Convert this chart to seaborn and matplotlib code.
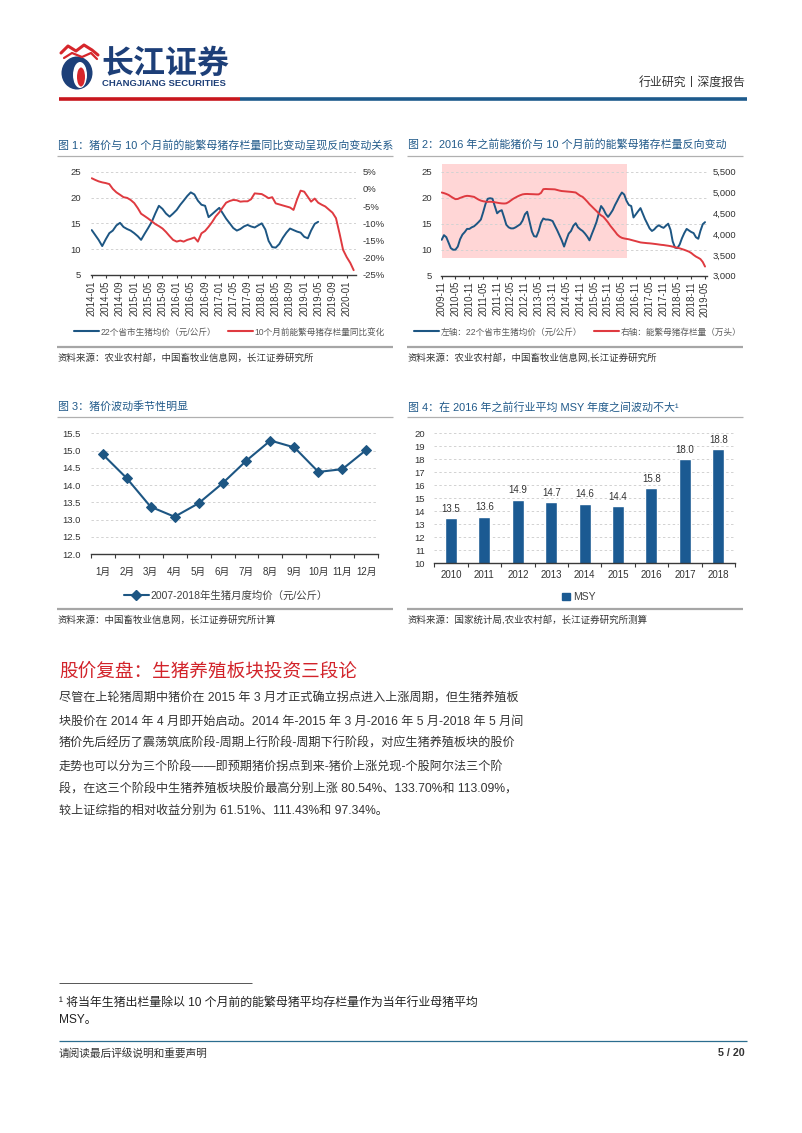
import matplotlib
matplotlib.use('Agg')
import numpy as np
import pandas as pd
import matplotlib.pyplot as plt
import matplotlib.dates as mdates
import matplotlib.ticker as mticker
import matplotlib.patches as mpatches
from matplotlib.lines import Line2D
import seaborn as sns

# ---------------- data ----------------
fig1_start = '2014-01-01'
fig1_price = [13.7, 12.7, 11.8, 10.6, 11.9, 13.1, 13.6, 14.6, 15.1, 14.3, 13.9, 13.6,
              13.1, 12.5, 11.8, 13.0, 14.1, 15.3, 16.9, 18.4, 17.8, 16.9, 16.3, 16.9,
              17.6, 18.6, 19.4, 20.3, 21.0, 20.6, 19.4, 18.6, 18.4, 16.2, 16.8, 17.4,
              18.0, 16.9, 15.9, 15.0, 14.1, 13.6, 13.9, 14.4, 14.7, 14.4, 14.2, 14.6,
              15.0, 13.8, 11.6, 10.4, 10.3, 11.0, 12.2, 13.2, 14.0, 13.7, 13.4, 13.2,
              12.4, 12.1, 13.6, 14.9, 15.3]
fig1_sow_yoy = [3.1, 2.6, 2.2, 1.9, 1.7, 1.4, 0.0, -1.0, -1.7, -2.4, -2.6, -3.2,
                -4.1, -5.6, -7.2, -7.9, -8.6, -9.4, -10.2, -10.8, -11.5, -12.5, -13.7, -14.8,
                -15.3, -15.0, -15.3, -14.8, -14.5, -14.1, -15.3, -12.9, -12.2, -11.0, -9.6, -8.0,
                -6.8, -5.3, -4.0, -3.5, -3.2, -3.3, -3.7, -3.6, -3.6, -3.0, -1.3, -1.4,
                -1.5, -2.1, -2.7, -2.4, -4.2, -4.5, -4.8, -5.1, -5.4, -6.1, -3.0, -0.5,
                -0.8, -2.3, -3.7, -2.8, -4.0, -4.6, -5.1, -6.0, -6.9, -8.5, -13.0, -17.7,
                -19.8, -21.5, -23.6]
fig1_labels = ['22个省市生猪均价（元/公斤）', '10个月前能繁母猪存栏量同比变化']

fig2_start = '2009-11-01'
fig2_price_early = [11.9, 12.8, 12.4, 11.3, 10.3, 10.0, 10.0, 10.6, 12.0, 12.9, 13.4, 14.0,
                    14.0, 14.3, 14.5, 14.9, 15.3, 15.8, 17.2, 18.8, 19.8, 19.9, 19.8, 18.4,
                    17.0, 17.4, 17.6, 16.2, 14.8, 14.3, 14.1, 14.1, 14.3, 14.6, 14.9, 15.6,
                    16.8, 17.3, 15.4, 13.5, 12.6, 12.5, 13.6, 15.2, 16.0, 15.8, 15.8, 15.7,
                    15.5, 14.6]
fig2_price = fig2_price_early + fig1_price
fig2_sow_stock = [5000, 4985, 4965, 4940, 4905, 4870, 4840, 4845, 4870, 4890, 4910, 4920,
                  4915, 4905, 4895, 4860, 4830, 4805, 4790, 4780, 4775, 4778, 4775, 4765,
                  4755, 4745, 4738, 4735, 4740, 4770, 4810, 4850, 4880, 4910, 4935, 4955,
                  4963, 4965, 4962, 4960, 4958, 4955, 4955, 4990, 5080, 5085, 5082, 5080,
                  5078, 5075, 5060, 5045, 5035, 5030, 5025, 5020, 5015, 5008, 5000, 4960,
                  4920, 4895, 4840, 4780, 4720, 4665, 4610, 4555, 4500, 4450, 4415, 4350,
                  4280, 4200, 4130, 4060, 3990, 3940, 3910, 3895, 3885, 3875, 3860, 3845,
                  3830, 3815, 3800, 3793, 3788, 3782, 3778, 3772, 3765, 3758, 3750, 3742,
                  3737, 3728, 3720, 3710, 3698, 3685, 3672, 3658, 3640, 3622, 3600, 3578,
                  3545, 3500, 3460, 3430, 3400, 3330, 3220]
fig2_shade_period = ['2009-11-01', '2016-07-01']
fig2_shade_range = [8.4, 26.5]
fig2_labels = ['左轴：22个省市生猪均价（元/公斤）', '右轴：能繁母猪存栏量（万头）']

fig3_months = ['1月', '2月', '3月', '4月', '5月', '6月', '7月', '8月', '9月', '10月', '11月', '12月']
fig3_price = [14.89, 14.20, 13.37, 13.08, 13.47, 14.05, 14.71, 15.29, 15.09, 14.38, 14.46, 15.02]
fig3_label = '2007-2018年生猪月度均价（元/公斤）'

fig4_years = ['2010', '2011', '2012', '2013', '2014', '2015', '2016', '2017', '2018']
fig4_msy = [13.5, 13.6, 14.9, 14.7, 14.6, 14.4, 15.8, 18.0, 18.8]
fig4_label = 'MSY'

body_lines = [
    "尽管在上轮猪周期中猪价在 2015 年 3 月才正式确立拐点进入上涨周期，但生猪养殖板",
    "块股价在 2014 年 4 月即开始启动。2014 年-2015 年 3 月-2016 年 5 月-2018 年 5 月间",
    "猪价先后经历了震荡筑底阶段-周期上行阶段-周期下行阶段，对应生猪养殖板块的股价",
    "走势也可以分为三个阶段——即预期猪价拐点到来-猪价上涨兑现-个股阿尔法三个阶",
    "段，在这三个阶段中生猪养殖板块股价最高分别上涨 80.54%、133.70%和 113.09%，",
    "较上证综指的相对收益分别为 61.51%、111.43%和 97.34%。",
]

# ---------------- style ----------------
sns.set_theme(style='white')
plt.rcParams['font.family'] = ['Liberation Sans', 'Noto Sans CJK SC', 'DejaVu Sans']
plt.rcParams['axes.unicode_minus'] = False

BLUE = '#1d5683'
RED = '#df3a40'
BAR = '#1b5a92'
TITLE_C = '#215a8a'
TXT = '#404040'
GRID = dict(color='#d2d2d2', linestyle=(0, (2.5, 2.5)), linewidth=0.7)

W, H, DPI = 802, 1133, 100
fig = plt.figure(figsize=(W / DPI, H / DPI), dpi=DPI)
fig.patch.set_facecolor('white')
page = fig.add_axes([0, 0, 1, 1])
page.set_xlim(0, W)
page.set_ylim(H, 0)
page.axis('off')


def add_ax(l, t, r, b):
    return fig.add_axes([l / W, 1 - b / H, (r - l) / W, (b - t) / H])


def hline(x0, x1, y, color, lw):
    page.plot([x0, x1], [y, y], color=color, lw=lw, solid_capstyle='butt')


def style(ax, ypad):
    for s in ['top', 'left', 'right']:
        ax.spines[s].set_visible(False)
    ax.spines['bottom'].set_color('#3a3a3a')
    ax.spines['bottom'].set_linewidth(1.0)
    ax.tick_params(axis='y', left=False, length=0, pad=ypad, labelsize=6.8, labelcolor='#333333')
    ax.tick_params(axis='x', bottom=True, labelcolor='#333333')
    ax.grid(axis='y', **GRID)
    ax.grid(axis='x', visible=False)
    ax.set_axisbelow(True)
    ax.set_xlabel('')
    ax.set_ylabel('')


def twin_style(ax, pad):
    for s in ax.spines.values():
        s.set_visible(False)
    ax.tick_params(axis='y', right=False, length=0, pad=pad, labelsize=6.8, labelcolor='#333333')
    ax.grid(False)
    ax.set_xlabel('')
    ax.set_ylabel('')


# ---------------- header ----------------
page.add_patch(mpatches.Ellipse((77, 73), 31, 33, fc='#1d4079', ec='none'))
page.add_patch(mpatches.Ellipse((80, 75), 14, 26, fc='white', ec='none'))
page.add_patch(mpatches.Ellipse((81, 77), 8, 19, fc='#d6262b', ec='none'))
page.plot([61, 68, 76, 84, 92, 98], [53, 46, 51, 45, 50, 55], color='#d6262b', lw=2.2)
page.plot([64, 72, 82, 91, 97], [58, 53, 57, 53, 59], color='#d6262b', lw=1.6)
page.text(101, 64, '长江证券', fontsize=23, fontweight='bold', color='#1d3f78', va='center', ha='left',
          family=['Noto Sans CJK SC'])
page.text(102, 84, 'CHANGJIANG SECURITIES', fontsize=6.8, fontweight='bold', color='#1d3f78',
          va='center', ha='left')
page.text(746, 83, '行业研究丨深度报告', fontsize=8.6, color='#333333', va='center', ha='right')
hline(59, 240, 98.5, '#c8161d', 2.6)
hline(240, 747, 98.5, '#1d5a8c', 2.6)

# ---------------- chart titles & frames ----------------
page.text(58, 145, '图 1：猪价与 10 个月前的能繁母猪存栏量同比变动呈现反向变动关系', fontsize=7.9,
          color=TITLE_C, va='center')
page.text(408, 145, '图 2：2016 年之前能猪价与 10 个月前的能繁母猪存栏量反向变动', fontsize=7.9,
          color=TITLE_C, va='center')
page.text(58, 407, '图 3：猪价波动季节性明显', fontsize=7.9, color=TITLE_C, va='center')
page.text(408, 407, '图 4：在 2016 年之前行业平均 MSY 年度之间波动不大¹', fontsize=7.9,
          color=TITLE_C, va='center')
for (x0, x1) in [(57, 393), (407, 743)]:
    hline(x0, x1, 155.5, '#b0b0b0', 0.9)
    hline(x0, x1, 347, '#a6a6a6', 1.6)
    hline(x0, x1, 417, '#b0b0b0', 0.9)
    hline(x0, x1, 608.5, '#a6a6a6', 1.6)
src_kw = dict(fontsize=6.8, color='#333333', va='center')
page.text(58, 358, '资料来源：农业农村部，中国畜牧业信息网，长江证券研究所', **src_kw)
page.text(408, 358, '资料来源：农业农村部，中国畜牧业信息网,长江证券研究所', **src_kw)
page.text(58, 620, '资料来源：中国畜牧业信息网，长江证券研究所计算', **src_kw)
page.text(408, 620, '资料来源：国家统计局,农业农村部，长江证券研究所测算', **src_kw)

# ---------------- chart 1 ----------------
ax1 = add_ax(90.7, 171.7, 356, 275)
d1 = pd.DataFrame({'date': pd.date_range(fig1_start, periods=len(fig1_price), freq='MS'),
                   'v': fig1_price})
sns.lineplot(data=d1, x='date', y='v', ax=ax1, color=BLUE, lw=1.4)
ax1.set_ylim(5, 25)
ax1.set_yticks([5, 10, 15, 20, 25])
style(ax1, 7.2)
ax1b = ax1.twinx()
d1b = pd.DataFrame({'date': pd.date_range(fig1_start, periods=len(fig1_sow_yoy), freq='MS'),
                    'v': fig1_sow_yoy})
sns.lineplot(data=d1b, x='date', y='v', ax=ax1b, color=RED, lw=1.4)
ax1b.set_ylim(-25, 5)
ax1b.set_yticks(list(range(-25, 6, 5)))
ax1b.yaxis.set_major_formatter(mticker.FuncFormatter(lambda v, p: f'{v:.0f}%'))
twin_style(ax1b, 5)
ax1.set_xlim(pd.Timestamp('2013-12-23'), pd.Timestamp('2020-03-21'))
ax1.xaxis.set_major_locator(mdates.MonthLocator(bymonth=[1, 5, 9]))
ax1.xaxis.set_major_formatter(mdates.DateFormatter('%Y-%m'))
ax1.tick_params(axis='x', rotation=90, length=2.4, width=0.8, color='#3a3a3a', pad=1.5, labelsize=6.9)
fig.legend([Line2D([], [], color=BLUE, lw=1.5), Line2D([], [], color=RED, lw=1.5)], fig1_labels,
           loc='center', bbox_to_anchor=(229.5 / W, 1 - 332 / H), ncol=2, frameon=False, fontsize=6.2,
           handlelength=2.9, handletextpad=0.2, columnspacing=1.4, labelcolor='#595959')

# ---------------- chart 2 ----------------
ax2 = add_ax(440.7, 171.7, 706.7, 275.7)
d2 = pd.DataFrame({'date': pd.date_range(fig2_start, periods=len(fig2_price), freq='MS'),
                   'v': fig2_price})
ax2.fill_between(pd.to_datetime(fig2_shade_period), fig2_shade_range[0], fig2_shade_range[1],
                 color='#ffd6d6', lw=0, clip_on=False, zorder=0.2)
sns.lineplot(data=d2, x='date', y='v', ax=ax2, color=BLUE, lw=1.4)
ax2.set_ylim(5, 25)
ax2.set_yticks([5, 10, 15, 20, 25])
style(ax2, 6.5)
ax2b = ax2.twinx()
d2b = pd.DataFrame({'date': pd.date_range(fig2_start, periods=len(fig2_sow_stock), freq='MS'),
                    'v': fig2_sow_stock})
sns.lineplot(data=d2b, x='date', y='v', ax=ax2b, color=RED, lw=1.4)
ax2b.set_ylim(3000, 5500)
ax2b.set_yticks(list(range(3000, 5501, 500)))
ax2b.yaxis.set_major_formatter(mticker.FuncFormatter(lambda v, p: f'{int(v):,}'))
twin_style(ax2b, 4.5)
ax2.set_xlim(pd.Timestamp('2009-10-19'), pd.Timestamp('2019-05-23'))
ax2.xaxis.set_major_locator(mdates.MonthLocator(bymonth=[5, 11]))
ax2.xaxis.set_major_formatter(mdates.DateFormatter('%Y-%m'))
ax2.tick_params(axis='x', rotation=90, length=2.4, width=0.8, color='#3a3a3a', pad=1.5, labelsize=6.9)
fig.legend([Line2D([], [], color=BLUE, lw=1.5), Line2D([], [], color=RED, lw=1.5)], fig2_labels,
           loc='center', bbox_to_anchor=(578 / W, 1 - 332 / H), ncol=2, frameon=False, fontsize=6.2,
           handlelength=2.9, handletextpad=0.2, columnspacing=1.4, labelcolor='#595959')

# ---------------- chart 3 ----------------
ax3 = add_ax(90.7, 433.3, 378.3, 554)
sns.lineplot(x=fig3_months, y=fig3_price, ax=ax3, color=BLUE, lw=1.5, marker='D', markersize=4.8,
             markeredgecolor=BLUE, sort=False)
ax3.set_xlim(-0.5, 11.5)
ax3.set_ylim(12, 15.5)
ax3.set_yticks(np.arange(12, 15.51, 0.5))
ax3.yaxis.set_major_formatter(mticker.FormatStrFormatter('%.1f'))
style(ax3, 7)
ax3.xaxis.set_minor_locator(mticker.FixedLocator(np.arange(-0.5, 12, 1)))
ax3.tick_params(axis='x', which='major', length=0, pad=9, labelsize=7)
ax3.tick_params(axis='x', which='minor', bottom=True, length=2.6, width=0.8, color='#3a3a3a')
fig.legend([Line2D([], [], color=BLUE, lw=1.5, marker='D', markersize=4.8)], [fig3_label],
           loc='center', bbox_to_anchor=(226 / W, 1 - 596 / H), frameon=False, fontsize=7.5,
           handlelength=2.4, handletextpad=0.2, labelcolor=TXT)

# ---------------- chart 4 ----------------
ax4 = add_ax(434.3, 433.3, 735, 563.3)
sns.barplot(x=fig4_years, y=fig4_msy, ax=ax4, color=BAR, width=0.36, saturation=1)
ax4.set_ylim(10, 20)
ax4.set_yticks(list(range(10, 21)))
style(ax4, 6.7)
ax4.bar_label(ax4.containers[0], fmt='%.1f', padding=3, fontsize=7, color='#333333')
ax4.xaxis.set_minor_locator(mticker.FixedLocator(np.arange(-0.5, 9, 1)))
ax4.tick_params(axis='x', which='major', length=0, pad=5, labelsize=7)
ax4.tick_params(axis='x', which='minor', bottom=True, length=2.6, width=0.8, color='#3a3a3a')
fig.legend([mpatches.Patch(color=BAR)], [fig4_label], loc='center',
           bbox_to_anchor=(579 / W, 1 - 597 / H), frameon=False, fontsize=7.5,
           handlelength=0.7, handleheight=0.7, handletextpad=0.3, labelcolor=TXT)

# ---------------- body text ----------------
page.text(59, 672, '股价复盘：生猪养殖板块投资三段论', fontsize=13.4, color='#d2232a', va='center')
for i, line in enumerate(body_lines):
    page.text(59, 699 + 22.4 * i, line, fontsize=8.7, color='#333333', va='center')

# ---------------- footnote & footer ----------------
hline(59, 252, 983, '#555555', 0.7)
page.text(59, 1003, '¹ 将当年生猪出栏量除以 10 个月前的能繁母猪平均存栏量作为当年行业母猪平均',
          fontsize=8.6, color='#222222', va='center')
page.text(59, 1020, 'MSY。', fontsize=8.6, color='#222222', va='center')
hline(59, 747, 1041, '#2b6d8f', 0.9)
page.text(59, 1053, '请阅读最后评级说明和重要声明', fontsize=7.7, color='#333333', va='center')
page.text(745, 1053, '5 / 20', fontsize=7.7, fontweight='bold', color='#333333', va='center', ha='right')

fig.savefig('out.png', dpi=DPI, facecolor='white')
